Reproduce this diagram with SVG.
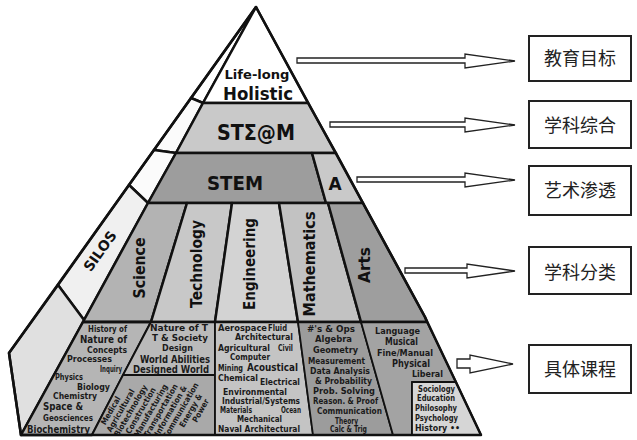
<svg xmlns="http://www.w3.org/2000/svg" width="637" height="440" viewBox="0 0 637 440">
<style>
.edge{stroke:#111;stroke-width:2.5;stroke-linejoin:round}
.thin{stroke:#111;stroke-width:1.8;stroke-linejoin:round}
.t{font-family:"DejaVu Sans","Liberation Sans",sans-serif;font-weight:bold;fill:#111}
.c{font-family:"DejaVu Sans Condensed","DejaVu Sans","Liberation Sans",sans-serif;font-weight:bold;fill:#1a1a1a}
.arrow{fill:#fff;stroke:#222;stroke-width:1.3;stroke-linejoin:miter}
.box{fill:#fff;stroke:#222;stroke-width:2}
.cjk{font-family:"Noto Sans CJK SC",sans-serif;font-size:18px;fill:#222;text-anchor:middle}
</style>
<defs>
<clipPath id="techclip"><polygon points="123,375 215,375 215,435 92,435"/></clipPath>
</defs>
<rect width="637" height="440" fill="#fff"/>

<g id="silos-strip">
<polygon class="edge" fill="#fff" points="256,7 191,98 203,103"/>
<polygon class="edge" fill="#fbfbfb" points="191,98 203,103 176,153 154,150"/>
<polygon class="edge" fill="#fbfbfb" points="154,150 176,153 148,203 129,185"/>
<polygon class="edge" fill="#f0f0f0" points="129,185 148,203 84,320 58,285"/>
<polygon class="edge" fill="#e0e0e0" points="58,285 84,320 21,435 9,353"/>
<text class="t" font-size="14" text-anchor="middle" transform="translate(104,254) rotate(-54.5)">SILOS</text>
</g>

<g id="level-holistic">
<polygon class="edge" fill="#fff" points="256,7 203,103 308,103"/>
<text class="t" font-size="13" x="257" y="79" text-anchor="middle" textLength="65" lengthAdjust="spacingAndGlyphs">Life-long</text>
<text class="t" font-size="18" x="258" y="100" text-anchor="middle" textLength="70" lengthAdjust="spacingAndGlyphs">Holistic</text>
</g>

<g id="level-steam">
<polygon class="edge" fill="#c9c9c9" points="203,103 308,103 336,153 176,153"/>
<text class="t" font-size="21" x="256" y="140" text-anchor="middle" textLength="78" lengthAdjust="spacingAndGlyphs">STΣ@M</text>
</g>

<g id="level-stem">
<polygon class="edge" fill="#9d9d9d" points="176,153 312,153 326,203 148,203"/>
<text class="t" font-size="19" x="235" y="190" text-anchor="middle" textLength="56" lengthAdjust="spacingAndGlyphs">STEM</text>
</g>
<g id="level-a">
<polygon class="edge" fill="#c9c9c9" points="312,153 336,153 363,203 326,203"/>
<text class="t" font-size="17" x="335" y="190" text-anchor="middle">A</text>
</g>

<g id="subject-science">
<polygon class="edge" fill="#b3b3b3" points="148,203 187,203 151,322 83,322"/>
<text class="t" font-size="15" text-anchor="middle" transform="translate(145,268) rotate(-90)" textLength="61" lengthAdjust="spacingAndGlyphs">Science</text>
</g>
<g id="subject-technology">
<polygon class="edge" fill="#c8c8c8" points="187,203 232,203 215,322 151,322"/>
<text class="t" font-size="15" text-anchor="middle" transform="translate(202,264) rotate(-90)" textLength="88" lengthAdjust="spacingAndGlyphs">Technology</text>
</g>
<g id="subject-engineering">
<polygon class="edge" fill="#d3d3d3" points="232,203 279,203 298,322 215,322"/>
<text class="t" font-size="15" text-anchor="middle" transform="translate(255,264) rotate(-90)" textLength="92" lengthAdjust="spacingAndGlyphs">Engineering</text>
</g>
<g id="subject-mathematics">
<polygon class="edge" fill="#c2c2c2" points="279,203 328,203 361,322 298,322"/>
<text class="t" font-size="15" text-anchor="middle" transform="translate(315,264) rotate(-90)" textLength="105" lengthAdjust="spacingAndGlyphs">Mathematics</text>
</g>
<g id="subject-arts">
<polygon class="edge" fill="#9e9e9e" points="328,203 363,203 425,317 427,322 361,322"/>
<text class="t" font-size="15" text-anchor="middle" transform="translate(370,265) rotate(-90)" textLength="36" lengthAdjust="spacingAndGlyphs">Arts</text>
</g>

<g id="courses-science">
<polygon class="edge" fill="#b5b5b5" points="83,322 151,322 92,435 21,435"/>
<text class="c" font-size="8" x="88" y="332" textLength="39" lengthAdjust="spacingAndGlyphs">History of</text>
<text class="c" font-size="10" x="80" y="343" textLength="47" lengthAdjust="spacingAndGlyphs">Nature of</text>
<text class="c" font-size="8" x="87" y="353" textLength="40" lengthAdjust="spacingAndGlyphs">Concepts</text>
<text class="c" font-size="8" x="67" y="362" textLength="45" lengthAdjust="spacingAndGlyphs">Processes</text>
<text class="c" font-size="8" x="100" y="372" textLength="22" lengthAdjust="spacingAndGlyphs">Inquiry</text>
<text class="c" font-size="9" x="55" y="380" textLength="28" lengthAdjust="spacingAndGlyphs">Physics</text>
<text class="c" font-size="9" x="77" y="390" textLength="33" lengthAdjust="spacingAndGlyphs">Biology</text>
<text class="c" font-size="8" x="53" y="399" textLength="44" lengthAdjust="spacingAndGlyphs">Chemistry</text>
<text class="c" font-size="10" x="43" y="410" textLength="40" lengthAdjust="spacingAndGlyphs">Space &amp;</text>
<text class="c" font-size="8" x="43" y="421" textLength="50" lengthAdjust="spacingAndGlyphs">Geosciences</text>
<text class="c" font-size="10" x="27" y="433" textLength="63" lengthAdjust="spacingAndGlyphs">Biochemistry</text>
</g>

<g id="courses-technology">
<polygon class="thin" fill="#bababa" points="151,322 215,322 215,375 123,375"/>
<polygon class="thin" fill="#a9a9a9" points="123,375 215,375 215,435 92,435"/>
<text class="c" font-size="9" x="150" y="331" textLength="58" lengthAdjust="spacingAndGlyphs">Nature of T</text>
<text class="c" font-size="9" x="152" y="341" textLength="56" lengthAdjust="spacingAndGlyphs">T &amp; Society</text>
<text class="c" font-size="9" x="162" y="351" textLength="31" lengthAdjust="spacingAndGlyphs">Design</text>
<text class="c" font-size="10" x="140" y="363" textLength="70" lengthAdjust="spacingAndGlyphs">World Abilities</text>
<text class="c" font-size="10" x="133" y="373" textLength="76" lengthAdjust="spacingAndGlyphs">Designed World</text>
<g clip-path="url(#techclip)" class="c" font-size="8" text-anchor="middle">
<text transform="translate(113,412) rotate(-60)">Medical</text>
<text transform="translate(123,412) rotate(-60)">Agricultural</text>
<text transform="translate(133,412) rotate(-60)">Biotechnology</text>
<text transform="translate(143,412) rotate(-60)">Construction</text>
<text transform="translate(153,412) rotate(-60)">Manufacturing</text>
<text transform="translate(163,412) rotate(-60)">Transportation</text>
<text transform="translate(173,412) rotate(-60)">Information &amp;</text>
<text transform="translate(183,412) rotate(-60)">Communication</text>
<text transform="translate(193,412) rotate(-60)">Energy &amp;</text>
<text transform="translate(203,412) rotate(-60)">Power</text>
</g>
</g>

<g id="courses-engineering">
<polygon class="thin" fill="#c4c4c4" points="215,322 298,322 313,435 215,435"/>
<text class="c" font-size="8" x="218" y="331" textLength="49" lengthAdjust="spacingAndGlyphs">Aerospace</text>
<text class="c" font-size="8" x="268" y="331" textLength="19" lengthAdjust="spacingAndGlyphs">Fluid</text>
<text class="c" font-size="8" x="235" y="340" textLength="58" lengthAdjust="spacingAndGlyphs">Architectural</text>
<text class="c" font-size="9" x="218" y="351" textLength="52" lengthAdjust="spacingAndGlyphs">Agricultural</text>
<text class="c" font-size="8" x="278" y="351" textLength="15" lengthAdjust="spacingAndGlyphs">Civil</text>
<text class="c" font-size="8" x="230" y="360" textLength="40" lengthAdjust="spacingAndGlyphs">Computer</text>
<text class="c" font-size="8" x="218" y="371" textLength="25" lengthAdjust="spacingAndGlyphs">Mining</text>
<text class="c" font-size="10" x="247" y="371" textLength="51" lengthAdjust="spacingAndGlyphs">Acoustical</text>
<text class="c" font-size="9" x="218" y="381" textLength="40" lengthAdjust="spacingAndGlyphs">Chemical</text>
<text class="c" font-size="8" x="260" y="385" textLength="40" lengthAdjust="spacingAndGlyphs">Electrical</text>
<text class="c" font-size="8" x="223" y="395" textLength="64" lengthAdjust="spacingAndGlyphs">Environmental</text>
<text class="c" font-size="9" x="222" y="404" textLength="78" lengthAdjust="spacingAndGlyphs">Industrial/Systems</text>
<text class="c" font-size="8" x="220" y="413" textLength="32" lengthAdjust="spacingAndGlyphs">Materials</text>
<text class="c" font-size="8" x="281" y="413" textLength="20" lengthAdjust="spacingAndGlyphs">Ocean</text>
<text class="c" font-size="9" x="237" y="422" textLength="45" lengthAdjust="spacingAndGlyphs">Mechanical</text>
<text class="c" font-size="9" x="218" y="432" textLength="82" lengthAdjust="spacingAndGlyphs">Naval Architectural</text>
</g>

<g id="courses-mathematics">
<polygon class="thin" fill="#9c9c9c" points="298,322 361,322 393,435 313,435"/>
<text class="c" font-size="9" x="307" y="332" textLength="48" lengthAdjust="spacingAndGlyphs">#'s &amp; Ops</text>
<text class="c" font-size="9" x="315" y="342" textLength="37" lengthAdjust="spacingAndGlyphs">Algebra</text>
<text class="c" font-size="9" x="313" y="353" textLength="45" lengthAdjust="spacingAndGlyphs">Geometry</text>
<text class="c" font-size="9" x="308" y="364" textLength="57" lengthAdjust="spacingAndGlyphs">Measurement</text>
<text class="c" font-size="9" x="310" y="374" textLength="60" lengthAdjust="spacingAndGlyphs">Data Analysis</text>
<text class="c" font-size="9" x="315" y="384" textLength="57" lengthAdjust="spacingAndGlyphs">&amp; Probability</text>
<text class="c" font-size="9" x="313" y="394" textLength="62" lengthAdjust="spacingAndGlyphs">Prob. Solving</text>
<text class="c" font-size="9" x="313" y="404" textLength="65" lengthAdjust="spacingAndGlyphs">Reason. &amp; Proof</text>
<text class="c" font-size="9" x="317" y="414" textLength="65" lengthAdjust="spacingAndGlyphs">Communication</text>
<text class="c" font-size="8" x="335" y="424" textLength="23" lengthAdjust="spacingAndGlyphs">Theory</text>
<text class="c" font-size="8" x="330" y="432" textLength="37" lengthAdjust="spacingAndGlyphs">Calc &amp; Trig</text>
</g>

<g id="courses-arts">
<polygon class="thin" fill="#a3a3a3" points="361,322 427,322 456,382 412,382 412,435 393,435"/>
<polygon class="thin" fill="#d6d6d6" points="412,382 456,382 481,435 412,435"/>
<text class="c" font-size="9" x="375" y="334" textLength="45" lengthAdjust="spacingAndGlyphs">Language</text>
<text class="c" font-size="10" x="385" y="345" textLength="33" lengthAdjust="spacingAndGlyphs">Musical</text>
<text class="c" font-size="9" x="377" y="356" textLength="56" lengthAdjust="spacingAndGlyphs">Fine/Manual</text>
<text class="c" font-size="10" x="392" y="367" textLength="38" lengthAdjust="spacingAndGlyphs">Physical</text>
<text class="c" font-size="8" x="412" y="377" textLength="31" lengthAdjust="spacingAndGlyphs">Liberal</text>
<text class="c" font-size="8" x="418" y="392" textLength="37" lengthAdjust="spacingAndGlyphs">Sociology</text>
<text class="c" font-size="8" x="417" y="401" textLength="38" lengthAdjust="spacingAndGlyphs">Education</text>
<text class="c" font-size="8" x="415" y="411" textLength="42" lengthAdjust="spacingAndGlyphs">Philosophy</text>
<text class="c" font-size="8" x="415" y="421" textLength="43" lengthAdjust="spacingAndGlyphs">Psychology</text>
<text class="c" font-size="8" x="415" y="431" textLength="45" lengthAdjust="spacingAndGlyphs">History ••</text>
</g>

<g id="pyramid-outline" fill="none">
<polyline class="edge" points="256,7 9,353 21,435 481,435 425,317 256,7"/>
<line class="edge" x1="83" y1="322" x2="427" y2="322"/>
</g>

<g id="connectors">
<polygon class="arrow" points="297,58 465,58 465,54 515,61 465,68 465,63 297,63"/>
<polygon class="arrow" points="330,122 465,122 465,118 515,125 465,132 465,127 330,127"/>
<polygon class="arrow" points="357,177 465,177 465,173 515,180 465,187 465,182 357,182"/>
<polygon class="arrow" points="405,268 467,268 467,264 515,271 467,278 467,273 405,273"/>
<polygon class="arrow" points="457,359 470,359 470,355 513,364 470,373 470,368 457,368"/>
</g>

<g id="goal">
<rect class="box" x="529" y="36" width="102" height="45"/>
<text class="cjk" x="580" y="65">教育目标</text>
</g>
<g id="integration">
<rect class="box" x="529" y="101" width="102" height="47"/>
<text class="cjk" x="580" y="132">学科综合</text>
</g>
<g id="arts-infusion">
<rect class="box" x="529" y="166" width="102" height="49"/>
<text class="cjk" x="580" y="197">艺术渗透</text>
</g>
<g id="classification">
<rect class="box" x="529" y="247" width="102" height="47"/>
<text class="cjk" x="580" y="279">学科分类</text>
</g>
<g id="courses">
<rect class="box" x="529" y="345" width="102" height="48"/>
<text class="cjk" x="580" y="376">具体课程</text>
</g>
</svg>
